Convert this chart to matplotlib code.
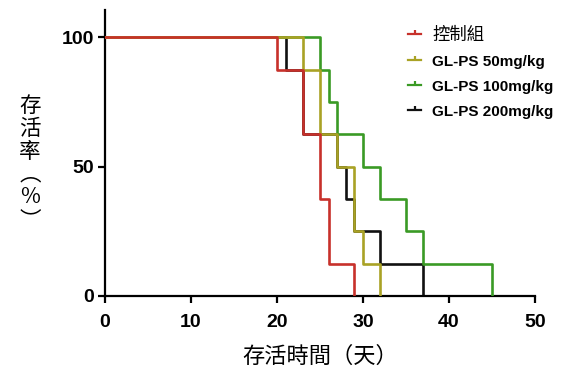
import matplotlib
matplotlib.use("Agg")
import matplotlib.pyplot as plt
from matplotlib.lines import Line2D

# survival curves (time in days, percent survival)
ctrl_days = [0, 20, 23, 25, 26, 29]
ctrl_surv = [100, 87.5, 62.5, 37.5, 12.5, 0]

ps50_days = [0, 23, 25, 27, 29, 30, 32]
ps50_surv = [100, 87.5, 62.5, 50, 25, 12.5, 0]

ps100_days = [0, 25, 26, 27, 30, 32, 35, 37, 45]
ps100_surv = [100, 87.5, 75, 62.5, 50, 37.5, 25, 12.5, 0]

ps200_days = [0, 21, 23, 27, 28, 29, 32, 37]
ps200_surv = [100, 87.5, 62.5, 50, 37.5, 25, 12.5, 0]

labels = ["控制組", "GL-PS 50mg/kg", "GL-PS 100mg/kg", "GL-PS 200mg/kg"]
colors = ["#c7312b", "#a9a225", "#3a9a25", "#111111"]

x_ticks = [0, 10, 20, 30, 40, 50]
y_ticks = [0, 50, 100]

cjk = ["Noto Sans CJK TC", "DejaVu Sans"]
num_font = dict(family="Liberation Sans", weight="bold", size=14)

fig = plt.figure(figsize=(5.72, 3.77), dpi=100)
ax = fig.add_axes([105 / 572, 1 - 296 / 377, 430 / 572, 286 / 377])

lw = 1.9
# drawing order: black at bottom, red on top
ax.step(ps200_days, ps200_surv, where="post", color=colors[3], lw=lw, zorder=2)
ax.step(ps100_days, ps100_surv, where="post", color=colors[2], lw=lw, zorder=3)
ax.step(ps50_days, ps50_surv, where="post", color=colors[1], lw=lw, zorder=4)
ax.step(ctrl_days, ctrl_surv, where="post", color=colors[0], lw=lw, zorder=5)

ax.set_xlim(0, 50)
ax.set_ylim(0, 110.5)
ax.set_xticks(x_ticks)
ax.set_yticks(y_ticks)
ax.set_xticklabels([str(t) for t in x_ticks], fontdict=num_font)
ax.set_yticklabels([str(t) for t in y_ticks], fontdict=num_font)

for s in ["top", "right"]:
    ax.spines[s].set_visible(False)
for s in ["left", "bottom"]:
    ax.spines[s].set_linewidth(1.6)
    ax.spines[s].set_color("black")
ax.tick_params(direction="out", length=5, width=1.6)
ax.tick_params(axis="x", pad=8)
ax.tick_params(axis="y", pad=3)

ax.set_xlabel("存活時間（天）", family=cjk, fontsize=16, labelpad=10)
fig.text(30 / 572, 1 - 163 / 377, "存\n活\n率\n︵\n%\n︶", family=cjk, fontsize=15.5,
         ha="center", va="center", linespacing=1.05)

handles = [Line2D([0], [0], color=c, lw=1.6, marker=2, markersize=3, markeredgewidth=1.6)
           for c in colors]
leg = ax.legend(handles, labels, loc="upper left", bbox_to_anchor=(400 / 572, 1 - 18 / 377),
                bbox_transform=fig.transFigure, frameon=False, handlelength=0.9,
                handletextpad=0.7, labelspacing=0.72, borderpad=0,
                prop=dict(family="Liberation Sans", weight="bold", size=11))
leg.get_texts()[0].set_fontfamily(cjk)
leg.get_texts()[0].set_fontweight("normal")
leg.get_texts()[0].set_fontsize(12.5)

fig.savefig("out.png", dpi=100)
